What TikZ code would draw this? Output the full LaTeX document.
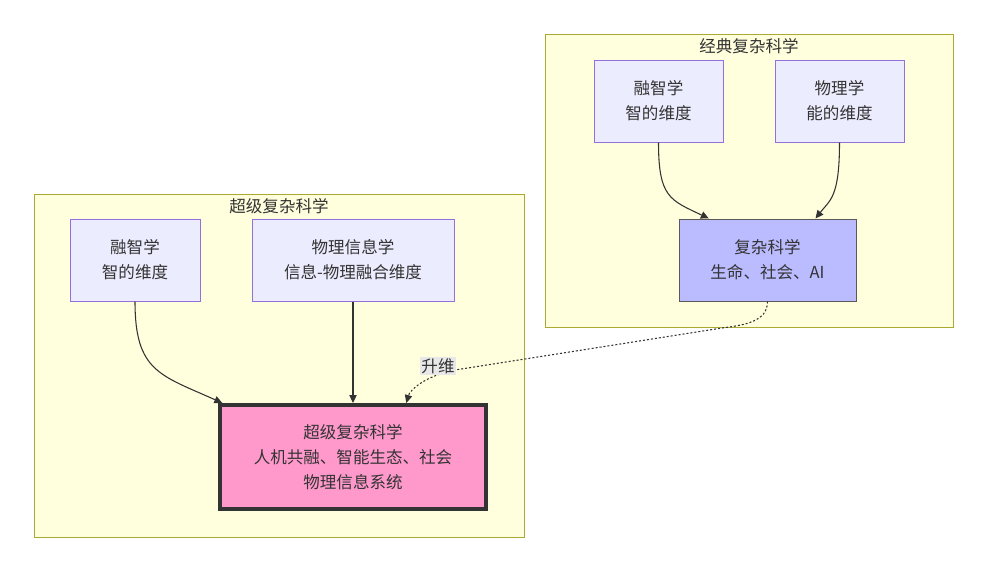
\documentclass[tikz,border=0pt]{standalone}
\usepackage{fontspec}
\setmainfont{Noto Sans CJK SC}
\usetikzlibrary{arrows.meta}
\definecolor{clfill}{HTML}{FFFFDE}
\definecolor{cldraw}{HTML}{AAAA33}
\definecolor{nfill}{HTML}{ECECFF}
\definecolor{ndraw}{HTML}{9370DB}
\definecolor{txt}{HTML}{333333}
\definecolor{cxfill}{HTML}{BBBBFF}
\definecolor{supfill}{HTML}{FF99CC}
\definecolor{lblfill}{HTML}{E8E8E8}

\begin{document}
\begin{tikzpicture}[x=0.75pt, y=-0.75pt, font=\fontsize{12.4pt}{18.75pt}\selectfont, text=txt,
    cluster/.style = {draw=cldraw, fill=clfill, line width=0.75pt},
    main/.style = {draw=ndraw, fill=nfill, line width=0.75pt, align=center, minimum height=61.5pt, inner sep=0pt},
    link/.style = {draw=txt, line width=0.8pt, -{Triangle[length=6pt,width=5.5pt]}}]
    \fill[white] (0,0) rectangle (988,571);
    \useasboundingbox (0,0) rectangle (988,571);
    % clusters
    \draw[cluster] (545,34) rectangle (953,327);
    \node (ct1) at (749,46) {经典复杂科学};
    \draw[cluster] (34,194) rectangle (524,537);
    \node (ct2) at (279,206) {超级复杂科学};
    % classic
    \node[main, minimum width=96.75pt] (rz1) at (658.5,101) {融智学\\智的维度};
    \node[main, minimum width=96.75pt] (wl) at (839.5,101) {物理学\\能的维度};
    \node[main, fill=cxfill, draw=black!65, minimum width=132.75pt] (fz) at (767.5,260) {复杂科学\\生命、社会、AI};
    % super
    \node[main, minimum width=97.5pt] (rz2) at (135,260) {融智学\\智的维度};
    \node[main, minimum width=151.5pt] (wx) at (353,260) {物理信息学\\信息-物理融合维度};
    \node[main, fill=supfill, draw=txt, line width=3pt, minimum width=199.5pt, minimum height=78pt] (cj) at (353,457) {超级复杂科学\\人机共融、智能生态、社会\\物理信息系统};
    % edges
    \draw[link] (rz1.south) .. controls +(0,55) and (670,200) .. ([xshift=-44pt]fz.north);
    \draw[link] (wl.south) .. controls +(0,55) and (830,200) .. ([xshift=36pt]fz.north);
    \draw[link] (rz2.south) .. controls +(0,70) and (160,375) .. ([xshift=-98pt]cj.north);
    \draw[link] (wx.south) -- (cj.north);
    \coordinate (bend) at (722,328);
    \coordinate (up) at (455,370);
    \draw[link, dash pattern=on 1.5pt off 1.5pt] (fz.south) .. controls +(0,20) and (745,325) .. (bend) -- (up) .. controls (425,376) and (410,390) .. ([xshift=40pt]cj.north);
    \node[fill=lblfill, inner sep=1pt] (lbl) at (438,366) {升维};
\end{tikzpicture}
\end{document}
